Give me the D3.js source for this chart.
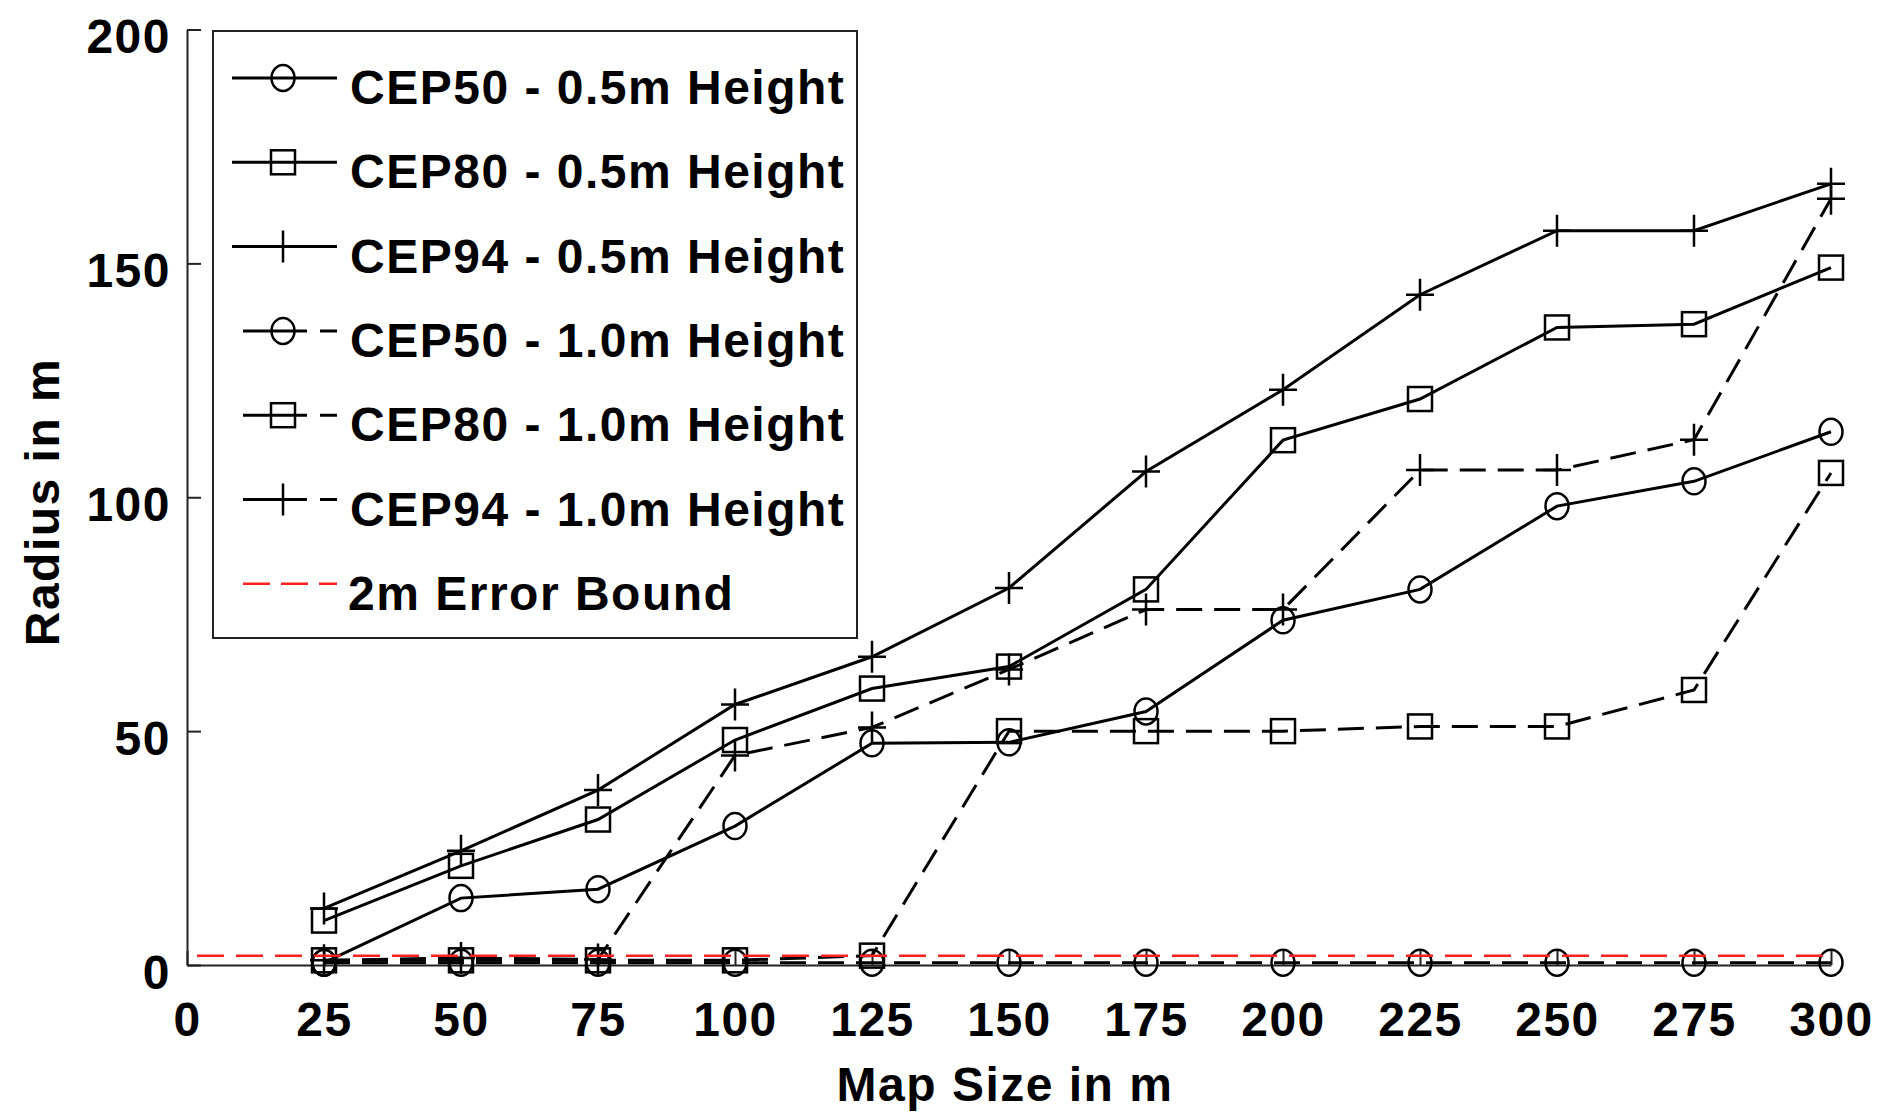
<!DOCTYPE html>
<html>
<head>
<meta charset="utf-8">
<script src="https://cdn.jsdelivr.net/npm/d3@7"></script>
<style>
body { margin: 0; background: #fff; }
text { font-family: "Liberation Sans", Arial, sans-serif; font-weight: bold; letter-spacing: 1.5px; }
</style>
</head>
<body>
<svg id="chart"></svg>
<script>
// map sizes (m) on the x axis
var mapSizes = [25, 50, 75, 100, 125, 150, 175, 200, 225, 250, 275, 300];
// radius (m), 0.5m height
var cep50Low = [0.5, 14.3, 16.2, 29.7, 47.4, 47.6, 54.2, 73.7, 80.3, 98.1, 103.4, 114];
var cep80Low = [9.5, 21.2, 31.1, 48.1, 59.1, 63.8, 80.3, 112.2, 121, 136.3, 137, 149.1];
var cep94Low = [12.1, 24.4, 37.4, 55.7, 65.9, 80.6, 105.5, 123, 143.3, 157, 157, 167];
// 1.0m height
var cep50High = [0.5, 0.5, 0.5, 0.5, 0.5, 0.5, 0.5, 0.5, 0.5, 0.5, 0.5, 0.5];
var cep80High = [1, 1, 1, 1, 2, 50, 50, 50, 51, 51, 58.8, 105.2];
var cep94High = [1, 1.5, 1.2, 44.8, 50.8, 63.2, 76, 76, 105.8, 105.8, 112.3, 163.8];
var errorBound = 2;

var xTicks = [0, 25, 50, 75, 100, 125, 150, 175, 200, 225, 250, 275, 300];
var yTicks = [0, 50, 100, 150, 200];

var series = [
	{label: "CEP50 - 0.5m Height", values: cep50Low, marker: "circle", dashed: false},
	{label: "CEP80 - 0.5m Height", values: cep80Low, marker: "square", dashed: false},
	{label: "CEP94 - 0.5m Height", values: cep94Low, marker: "plus", dashed: false},
	{label: "CEP50 - 1.0m Height", values: cep50High, marker: "circle", dashed: true},
	{label: "CEP80 - 1.0m Height", values: cep80High, marker: "square", dashed: true},
	{label: "CEP94 - 1.0m Height", values: cep94High, marker: "plus", dashed: true}
];
var boundLabel = "2m Error Bound";

var W = 1879, H = 1112;
var svg = d3.select("#chart").attr("width", W).attr("height", H);
svg.append("rect").attr("width", W).attr("height", H).attr("fill", "#fff");

var x = d3.scaleLinear().domain([0, 300]).range([187, 1831]);
var y = d3.scaleLinear().domain([0, 200]).range([965, 29.5]);

// axes, ticks point inwards like matlab
var xAxis = svg.append("g").attr("transform", "translate(0," + y(0) + ")")
	.call(d3.axisBottom(x).tickValues(xTicks).tickSizeInner(-14).tickSizeOuter(0).tickPadding(37));
var yAxis = svg.append("g").attr("transform", "translate(" + x(0) + ",0)")
	.call(d3.axisLeft(y).tickValues(yTicks).tickSizeInner(-14).tickSizeOuter(0).tickPadding(16));

[xAxis, yAxis].forEach(function(a) {
	a.select(".domain").attr("stroke", "#222").attr("stroke-width", 2);
	a.selectAll(".tick line").attr("stroke", "#222").attr("stroke-width", 2);
	a.selectAll(".tick text").attr("fill", "#000").attr("font-size", 48)
		.attr("font-family", null).attr("font-weight", "bold");
});
yAxis.selectAll(".tick text").attr("dy", "0.48em");

svg.append("text").attr("transform", "translate(59,502) rotate(-90)")
	.attr("text-anchor", "middle").attr("font-size", 48).text("Radius in m");
svg.append("text").attr("x", 1005).attr("y", 1101)
	.attr("text-anchor", "middle").attr("font-size", 48).text("Map Size in m");

function drawMarker(g, type, cx, cy) {
	if (type == "circle") {
		g.append("ellipse").attr("cx", cx).attr("cy", cy).attr("rx", 11.5).attr("ry", 13)
			.attr("fill", "none").attr("stroke", "#000").attr("stroke-width", 2.5);
	} else if (type == "square") {
		g.append("rect").attr("x", cx - 12).attr("y", cy - 12).attr("width", 24).attr("height", 24)
			.attr("fill", "none").attr("stroke", "#000").attr("stroke-width", 2.5);
	} else {
		g.append("path").attr("d", "M" + (cx - 14) + "," + cy + "H" + (cx + 14) + "M" + cx + "," + (cy - 16) + "V" + (cy + 16))
			.attr("fill", "none").attr("stroke", "#000").attr("stroke-width", 2.5);
	}
}

var line = d3.line()
	.x(function(d, i) { return x(mapSizes[i]); })
	.y(function(d) { return y(d); });

var plot = svg.append("g");
series.forEach(function(s) {
	plot.append("path").datum(s.values).attr("d", line)
		.attr("fill", "none").attr("stroke", "#000").attr("stroke-width", 3)
		.attr("stroke-dasharray", s.dashed ? "26,12" : null);
	var mg = plot.append("g");
	s.values.forEach(function(v, i) {
		drawMarker(mg, s.marker, x(mapSizes[i]), y(v));
	});
});

// 2m error bound
svg.append("line").attr("x1", x(0) + 10).attr("x2", x(300)).attr("y1", y(errorBound)).attr("y2", y(errorBound))
	.attr("stroke", "#ff2020").attr("stroke-width", 2.5).attr("stroke-dasharray", "27,12");

// legend
var legend = svg.append("g");
legend.append("rect").attr("x", 213).attr("y", 31).attr("width", 644).attr("height", 607)
	.attr("fill", "#fff").attr("stroke", "#222").attr("stroke-width", 2);

var rowY = function(i) { return 78 + i * 84.3; };
series.forEach(function(s, i) {
	var ly = rowY(i);
	if (s.dashed) {
		legend.append("line").attr("x1", 243).attr("x2", 337).attr("y1", ly).attr("y2", ly)
			.attr("stroke", "#000").attr("stroke-width", 3).attr("stroke-dasharray", "64,13");
	} else {
		legend.append("line").attr("x1", 232).attr("x2", 337).attr("y1", ly).attr("y2", ly)
			.attr("stroke", "#000").attr("stroke-width", 3);
	}
	drawMarker(legend, s.marker, 283, ly);
	legend.append("text").attr("x", 350).attr("y", ly + 26).attr("font-size", 48).text(s.label);
});
var by = rowY(series.length);
legend.append("line").attr("x1", 243).attr("x2", 337).attr("y1", by).attr("y2", by)
	.attr("stroke", "#ff2020").attr("stroke-width", 2.5).attr("stroke-dasharray", "27,11");
legend.append("text").attr("x", 348).attr("y", by + 26).attr("font-size", 48).text(boundLabel);
</script>
</body>
</html>
